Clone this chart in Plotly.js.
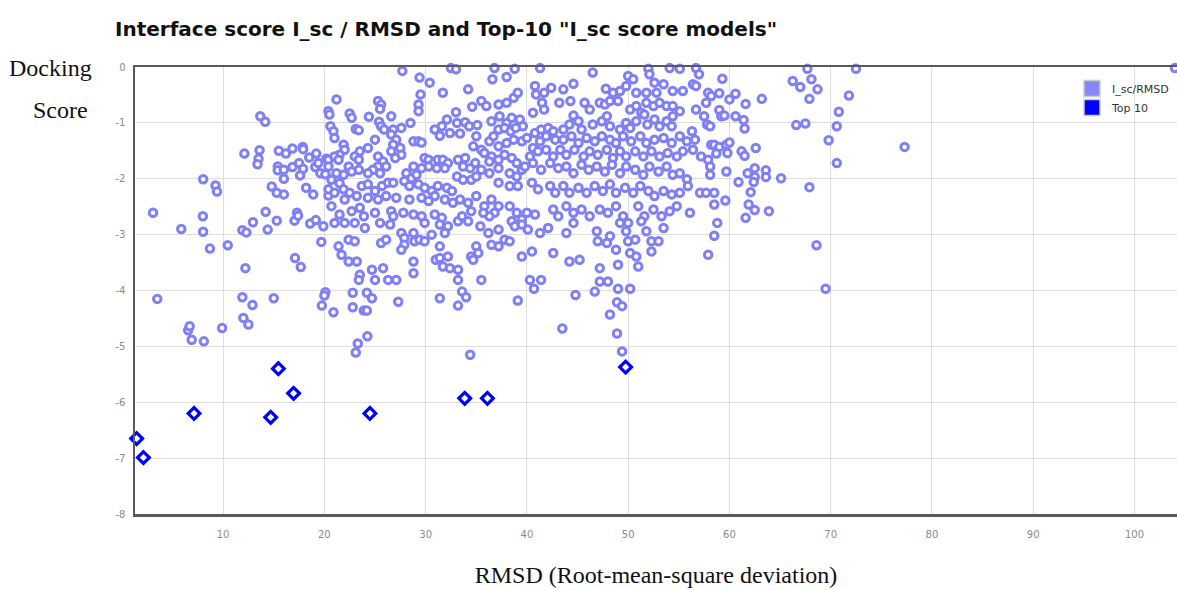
<!DOCTYPE html>
<html>
<head>
<meta charset="utf-8">
<script src="https://cdn.plot.ly/plotly-3.0.1.min.js"></script>
<style>html,body{margin:0;padding:0;background:#fff;}#chart{width:1177px;height:590px;}</style>
</head>
<body>
<div id="chart"></div>
<script>
// I_sc / RMSD models: [RMSD, I_sc score]
var iscModels = [
[13.67,-0.88],[14.16,-0.98],[12.1,-1.55],[13.6,-1.49],[13.5,-1.64],[13.4,-1.74],[15.5,-1.5],[16.2,-1.55],[16.85,-1.46],[17.87,-1.43],[17.9,-1.47],[18.5,-1.62],[19.2,-1.55],[20.2,-1.64],[15.4,-1.78],[15.4,-1.85],[16.0,-1.84],[16.85,-1.79],[17.5,-1.72],[17.9,-1.82],[17.6,-1.94],[16.0,-2.0],[19.1,-1.79],[19.4,-1.72],[19.6,-1.9],[20.1,-1.92],[20.4,-1.66],[8.03,-2.01],[9.25,-2.12],[9.4,-2.23],[14.8,-2.14],[15.3,-2.25],[16.0,-2.28],[18.2,-2.16],[18.9,-2.28],[20.4,-2.3],[3.08,-2.61],[8.0,-2.67],[8.03,-2.95],[5.87,-2.9],[8.7,-3.25],[10.46,-3.19],[11.9,-2.92],[12.3,-2.96],[12.95,-2.78],[14.2,-2.59],[14.4,-2.91],[15.3,-2.75],[17.05,-2.75],[17.3,-2.61],[17.4,-2.66],[18.6,-2.8],[19.15,-2.74],[19.9,-2.85],[19.7,-3.13],[17.1,-3.42],[17.67,-3.58],[12.2,-3.6],
[27.7,-0.07],[29.4,-0.19],[30.4,-0.28],[32.5,-0.02],[33.0,-0.04],[36.8,-0.02],[36.6,-0.22],[38.0,-0.18],[38.8,-0.03],[31.7,-0.46],[34.2,-0.4],[29.5,-0.49],[29.3,-0.67],[29.3,-0.79],[21.2,-0.58],[20.4,-0.79],[20.5,-0.85],[25.3,-0.61],[25.6,-0.67],[25.5,-0.75],[22.5,-0.83],[22.7,-0.91],[24.4,-0.89],[26.6,-0.88],[25.4,-0.98],[25.6,-1.06],[25.9,-1.12],[26.8,-1.12],[27.6,-1.09],[28.5,-1.0],[23.1,-1.11],[23.4,-1.13],[20.6,-1.06],[20.9,-1.15],[21.0,-1.27],[33.0,-0.81],[34.6,-0.71],[35.5,-0.61],[36.0,-0.7],[37.2,-0.67],[38.0,-0.64],[38.7,-0.55],[39.1,-0.46],[32.1,-0.94],[33.1,-1.0],[33.9,-0.99],[34.3,-1.06],[35.1,-1.04],[30.9,-1.12],[31.4,-1.23],[31.6,-1.06],[32.4,-1.18],[33.4,-1.19],[36.5,-0.97],[37.3,-0.88],[38.0,-1.0],[38.5,-0.91],[39.3,-0.94],[39.6,-1.06],[37.2,-1.12],[37.8,-1.09],[38.4,-1.15],[38.9,-1.09],[28.8,-1.33],[29.3,-1.33],[29.6,-1.35],[35.0,-1.24],[34.7,-1.42],[35.5,-1.48],[36.3,-1.33],[36.7,-1.24],[37.2,-1.42],[38.0,-1.36],[38.7,-1.3],[39.5,-1.33],[26.6,-1.21],[27.1,-1.3],[26.8,-1.39],[27.5,-1.45],[27.6,-1.57],[27.0,-1.63],[26.6,-1.51],[25.0,-1.3],[24.3,-1.45],[23.5,-1.51],[23.0,-1.6],[23.4,-1.66],[21.9,-1.39],[22.0,-1.48],[21.5,-1.57],[21.0,-1.6],[20.4,-1.78],[21.4,-1.66],[25.3,-1.6],[25.8,-1.69],[25.3,-1.78],[24.8,-1.84],[24.3,-1.9],[25.5,-1.9],[26.1,-1.78],[22.4,-1.78],[22.7,-1.87],[23.4,-1.84],[21.9,-1.93],[21.2,-1.9],[20.7,-2.02],[21.5,-2.08],[28.8,-1.78],[29.9,-1.63],[30.3,-1.66],[30.8,-1.72],[31.2,-1.66],[31.7,-1.66],[32.2,-1.72],[31.9,-1.81],[31.1,-1.81],[30.3,-1.78],[29.6,-1.81],[28.1,-1.9],[28.6,-1.99],[29.1,-1.93],[33.2,-1.66],[33.9,-1.63],[33.7,-1.78],[34.4,-1.81],[34.9,-1.72],[35.8,-1.54],[36.5,-1.6],[36.3,-1.69],[37.2,-1.66],[37.8,-1.57],[38.5,-1.63],[39.0,-1.72],[39.5,-1.84],[35.5,-1.84],[36.3,-1.9],[37.2,-1.81],[38.3,-1.9],[39.0,-1.96],[33.1,-1.96],[33.7,-2.02],[34.5,-2.02],[35.0,-1.96],[37.2,-2.07],[38.3,-2.13],[39.1,-2.13],[23.7,-2.13],[24.3,-2.1],[25.0,-2.22],[25.7,-2.13],[26.3,-2.07],[26.8,-2.07],[27.9,-2.04],[28.4,-2.13],[29.3,-2.1],[29.9,-2.16],[30.6,-2.22],[31.2,-2.13],[32.1,-2.16],[32.6,-2.22],[20.4,-2.19],[21.0,-2.25],[21.9,-2.19],[22.5,-2.25],[23.2,-2.31],[22.0,-2.37],[24.3,-2.34],[25.3,-2.37],[26.1,-2.31],[27.1,-2.34],[28.4,-2.37],[29.6,-2.34],[30.3,-2.4],[30.9,-2.31],[31.9,-2.37],[32.7,-2.43],[33.4,-2.37],[34.2,-2.43],[35.0,-2.31],[35.8,-2.49],[36.5,-2.37],[37.2,-2.49],[36.8,-2.61],[36.3,-2.67],[35.7,-2.61],[38.3,-2.49],[39.0,-2.61],[39.5,-2.73],[38.5,-2.76],[20.7,-2.49],[21.5,-2.64],[21.0,-2.79],[22.0,-2.79],[22.7,-2.58],[23.5,-2.52],[23.9,-2.67],[23.0,-2.79],[24.0,-2.88],[25.0,-2.61],[25.5,-2.79],[26.6,-2.58],[26.8,-2.67],[26.5,-2.82],[27.8,-2.61],[28.8,-2.64],[29.6,-2.67],[29.9,-2.79],[30.9,-2.64],[31.6,-2.7],[31.4,-2.82],[32.2,-2.85],[31.9,-2.97],[33.2,-2.76],[33.6,-2.67],[34.2,-2.76],[34.5,-2.58],[35.4,-2.85],[36.2,-2.97],[37.2,-2.91],[37.8,-3.09],[38.3,-3.12],[37.2,-3.21],[36.5,-3.18],[38.8,-2.85],[39.5,-2.82],[22.4,-3.09],[23.0,-3.12],[21.4,-3.21],[25.6,-3.15],[26.1,-3.09],[27.6,-2.97],[27.9,-3.06],[28.8,-2.97],[28.9,-3.12],[27.9,-3.18],[27.6,-3.27],[29.4,-3.09],[29.9,-3.12],[30.6,-3.0],[31.4,-3.21],[21.7,-3.36],[22.4,-3.48],[23.2,-3.48],[31.0,-3.45],[31.4,-3.42],[32.2,-3.39],[31.7,-3.57],[32.4,-3.6],[33.2,-3.63],[34.5,-3.39],[35.0,-3.21],[35.2,-3.33],[34.7,-3.45],[39.5,-3.39],[28.8,-3.48],[28.8,-3.69],[23.5,-3.72],[23.4,-3.81],[24.7,-3.63],[25.0,-3.81],[25.8,-3.6],[26.3,-3.81],[27.1,-3.81],[33.2,-3.81],[35.5,-3.81],
[41.3,-0.02],[46.5,-0.1],[52.0,-0.03],[52.1,-0.13],[54.1,-0.02],[55.1,-0.03],[56.7,-0.02],[57.0,-0.13],[50.0,-0.16],[50.5,-0.22],[52.6,-0.28],[53.5,-0.31],[56.4,-0.31],[56.7,-0.34],[40.8,-0.34],[40.9,-0.49],[41.7,-0.46],[42.4,-0.37],[43.6,-0.4],[44.6,-0.3],[47.8,-0.39],[48.5,-0.46],[49.2,-0.43],[49.8,-0.34],[50.8,-0.46],[51.8,-0.46],[52.8,-0.46],[54.4,-0.43],[55.4,-0.43],[57.9,-0.46],[58.2,-0.52],[41.5,-0.64],[41.7,-0.76],[40.6,-0.82],[43.2,-0.64],[44.3,-0.61],[45.7,-0.64],[46.2,-0.76],[47.2,-0.64],[47.7,-0.67],[48.2,-0.61],[49.0,-0.61],[50.2,-0.76],[50.8,-0.7],[51.3,-0.82],[51.8,-0.64],[52.5,-0.7],[53.1,-0.64],[53.8,-0.7],[54.4,-0.7],[55.1,-0.79],[56.7,-0.76],[57.7,-0.64],[57.5,-0.88],[44.6,-0.87],[45.1,-0.97],[44.2,-1.03],[43.6,-1.12],[45.4,-1.12],[46.5,-1.03],[47.4,-0.97],[47.9,-0.88],[48.2,-1.06],[49.2,-1.12],[49.8,-1.0],[50.2,-1.09],[50.8,-0.97],[51.6,-0.85],[51.9,-1.03],[52.6,-0.94],[53.1,-1.06],[53.8,-0.97],[54.4,-0.88],[54.3,-1.06],[56.3,-1.15],[56.6,-1.3],[57.8,-1.03],[58.1,-1.06],[40.0,-1.27],[40.8,-1.18],[41.4,-1.12],[42.1,-1.09],[42.6,-1.15],[41.9,-1.24],[42.8,-1.3],[41.3,-1.33],[40.6,-1.45],[43.6,-1.3],[44.4,-1.24],[45.1,-1.36],[45.9,-1.27],[46.7,-1.33],[47.4,-1.24],[48.2,-1.3],[48.8,-1.36],[49.5,-1.24],[50.3,-1.33],[51.2,-1.24],[51.8,-1.36],[52.6,-1.3],[53.5,-1.27],[54.3,-1.36],[55.1,-1.24],[55.8,-1.33],[58.2,-1.39],[40.3,-1.6],[41.1,-1.51],[41.9,-1.48],[42.6,-1.6],[43.3,-1.48],[43.9,-1.57],[44.7,-1.48],[45.6,-1.6],[46.2,-1.51],[47.0,-1.57],[47.9,-1.48],[48.5,-1.63],[49.2,-1.51],[49.8,-1.6],[50.7,-1.51],[51.5,-1.6],[52.3,-1.51],[53.1,-1.6],[53.9,-1.54],[54.8,-1.6],[55.4,-1.51],[56.4,-1.48],[57.2,-1.6],[57.9,-1.66],[39.8,-1.78],[40.6,-1.72],[41.4,-1.84],[42.3,-1.72],[43.1,-1.81],[43.9,-1.78],[44.6,-1.9],[45.4,-1.75],[46.1,-1.84],[46.9,-1.78],[47.7,-1.87],[48.4,-1.75],[49.2,-1.9],[49.8,-1.78],[50.7,-1.84],[51.5,-1.93],[52.1,-1.78],[53.0,-1.87],[53.8,-1.78],[54.4,-1.93],[55.1,-1.9],[55.8,-2.01],[58.1,-1.78],[58.1,-1.93],[40.5,-2.07],[41.1,-2.19],[42.3,-2.13],[42.8,-2.25],[43.6,-2.13],[44.2,-2.25],[45.1,-2.16],[45.9,-2.25],[46.7,-2.13],[47.5,-2.22],[48.2,-2.1],[48.8,-2.25],[49.7,-2.16],[50.5,-2.25],[51.2,-2.13],[52.0,-2.22],[52.6,-2.31],[53.5,-2.22],[54.3,-2.28],[55.1,-2.25],[55.9,-2.13],[57.1,-2.25],[57.7,-2.25],[40.0,-2.61],[40.8,-2.64],[42.6,-2.55],[43.1,-2.67],[43.9,-2.49],[44.6,-2.61],[45.4,-2.55],[46.2,-2.67],[47.2,-2.55],[48.0,-2.61],[48.8,-2.49],[49.5,-2.67],[51.0,-2.49],[51.6,-2.67],[52.5,-2.55],[53.3,-2.67],[54.1,-2.58],[54.8,-2.49],[56.1,-2.61],[40.1,-2.91],[41.3,-2.97],[42.1,-2.88],[43.9,-2.97],[44.6,-2.79],[46.9,-2.94],[48.2,-3.03],[49.2,-2.79],[50.0,-2.79],[49.8,-2.94],[51.3,-2.76],[51.8,-2.94],[53.5,-2.88],[40.5,-3.3],[42.6,-3.33],[44.2,-3.48],[45.2,-3.45],[47.0,-3.12],[47.9,-3.15],[48.8,-3.27],[50.0,-3.12],[50.7,-3.09],[50.2,-3.33],[50.8,-3.39],[52.3,-3.12],[53.0,-3.12],[52.3,-3.3],[51.0,-3.57],[47.2,-3.6],[49.0,-3.54],[57.9,-3.36],[40.3,-3.81],[41.4,-3.81],[47.2,-3.84],[48.0,-3.84],
[67.7,-0.03],[72.5,-0.03],[104.0,-0.02],[59.3,-0.21],[66.25,-0.25],[67.0,-0.36],[68.1,-0.22],[68.7,-0.4],[67.9,-0.57],[71.8,-0.51],[59.0,-0.47],[60.0,-0.58],[60.6,-0.48],[61.6,-0.66],[63.2,-0.57],[59.0,-0.77],[59.2,-0.88],[59.5,-0.87],[60.6,-0.88],[61.4,-0.95],[61.5,-1.1],[70.8,-0.8],[70.6,-1.06],[69.8,-1.31],[70.6,-1.72],[66.6,-1.04],[67.5,-1.01],[77.3,-1.43],[58.5,-1.39],[59.0,-1.43],[59.7,-1.39],[60.0,-1.35],[58.7,-1.55],[59.8,-1.54],[61.2,-1.51],[61.5,-1.59],[62.6,-1.45],[59.7,-1.87],[61.8,-1.9],[62.5,-1.81],[63.6,-1.85],[62.5,-1.97],[63.6,-1.97],[65.1,-1.99],[62.4,-2.06],[60.9,-2.06],[67.9,-2.15],[58.5,-2.25],[58.5,-2.46],[59.6,-2.39],[62.1,-2.24],[61.9,-2.46],[62.5,-2.56],[61.6,-2.7],[63.9,-2.58],[58.8,-2.79],[58.5,-3.02],[68.6,-3.19],[69.5,-3.97],
[3.5,-4.15],[11.9,-4.12],[12.9,-4.26],[15.0,-4.14],[19.75,-4.27],[20.1,-4.03],[20.0,-4.09],[20.9,-4.39],[22.8,-4.04],[22.8,-4.3],[24.2,-4.04],[24.7,-4.14],[23.9,-4.36],[24.2,-4.36],[27.3,-4.2],[31.4,-4.14],[33.2,-4.27],[33.6,-4.02],[34.0,-4.12],[39.1,-4.18],[40.7,-3.97],[44.8,-4.08],[46.7,-4.02],[49.0,-3.97],[50.2,-3.97],[48.9,-4.21],[49.4,-4.28],[48.2,-4.43],[48.9,-4.77],[49.4,-5.09],[43.5,-4.68],[6.55,-4.71],[6.7,-4.64],[6.9,-4.88],[8.1,-4.91],[9.9,-4.67],[12.0,-4.49],[12.5,-4.61],[23.3,-4.95],[23.1,-5.11],[24.25,-4.82],[34.4,-5.15]
];

// Top 10 "I_sc score models"
var top10Rmsd  = [1.46, 2.13, 7.13, 14.7, 15.46, 16.96, 24.5, 33.86, 36.1, 49.75];
var top10Score = [-6.65, -6.99, -6.2, -6.27, -5.4, -5.84, -6.2, -5.93, -5.93, -5.37];

var xTickVals = [10, 20, 30, 40, 50, 60, 70, 80, 90, 100];
var xTickLabels = ['10', '20', '30', '40', '50', '60', '70', '80', '90', '100'];
var yTickVals = [0, -1, -2, -3, -4, -5, -6, -7, -8];
var yTickLabels = ['0', '-1', '-2', '-3', '-4', '-5', '-6', '-7', '-8'];

var seriesNames = ['I_sc/RMSD', 'Top 10'];

var iscX = iscModels.map(function (p) { return p[0]; });
var iscY = iscModels.map(function (p) { return p[1]; });

var traces = [
  {
    x: iscX, y: iscY, type: 'scatter', mode: 'markers', showlegend: false,
    cliponaxis: false, hoverinfo: 'x+y',
    marker: { symbol: 'circle', size: 7.5, color: '#ffffff', line: { color: '#7f7ff6', width: 3 } }
  },
  {
    x: top10Rmsd, y: top10Score, type: 'scatter', mode: 'markers', showlegend: false,
    cliponaxis: false, hoverinfo: 'x+y',
    marker: { symbol: 'diamond', size: 9, color: '#ffffff', line: { color: '#0000ff', width: 3.2 } }
  },
  {
    x: [null], y: [null], type: 'scatter', mode: 'markers', name: seriesNames[0],
    marker: { symbol: 'square', size: 16, color: '#8787fb', line: { color: '#cccccc', width: 1.5 } }
  },
  {
    x: [null], y: [null], type: 'scatter', mode: 'markers', name: seriesNames[1],
    marker: { symbol: 'square', size: 16, color: '#0000ff', line: { color: '#cccccc', width: 1.5 } }
  }
];

var tickFont = { family: 'DejaVu Sans, sans-serif', size: 10, color: '#8a8a8a' };

var layout = {
  width: 1177, height: 590,
  margin: { l: 135, r: 0, t: 67, b: 76, pad: 0, autoexpand: false },
  paper_bgcolor: '#ffffff', plot_bgcolor: '#ffffff',
  title: {
    text: '<b>Interface score I_sc / RMSD and Top-10 "I_sc score models"</b>',
    font: { family: 'DejaVu Sans, sans-serif', size: 20, color: '#111111' },
    xref: 'container', yref: 'container', x: 115 / 1177, xanchor: 'left', y: 1 - 29 / 590, yanchor: 'middle',
    automargin: false
  },
  xaxis: {
    range: [1.3, 104.2], tickmode: 'array', tickvals: xTickVals, ticktext: xTickLabels,
    showgrid: true, gridcolor: '#dedede', gridwidth: 1, zeroline: false,
    showline: true, linecolor: '#5a5a5a', linewidth: 2.5, mirror: true,
    ticks: '', tickfont: tickFont, ticklabelstandoff: 9, automargin: false,
    title: { text: 'RMSD (Root-mean-square deviation)', font: { family: 'Liberation Serif, serif', size: 24, color: '#111111' }, standoff: 28 }
  },
  yaxis: {
    range: [-8, 0], tickmode: 'array', tickvals: yTickVals, ticktext: yTickLabels,
    showgrid: true, gridcolor: '#dedede', gridwidth: 1, zeroline: false,
    showline: true, linecolor: '#5a5a5a', linewidth: 2.5, mirror: false,
    ticks: '', tickfont: tickFont, ticklabelstandoff: 5, automargin: false
  },
  legend: {
    x: (1072 - 135) / 1042, xref: 'paper', y: 1 - 7 / 447, yref: 'paper', xanchor: 'left', yanchor: 'top',
    bgcolor: 'rgba(255,255,255,0)', borderwidth: 0,
    font: { family: 'DejaVu Sans, sans-serif', size: 11, color: '#333333' },
    itemsizing: 'trace', tracegroupgap: 2
  },
  annotations: [
    { text: 'Docking', xref: 'paper', yref: 'paper', x: -41 / 1042, y: 1 - 1 / 447, xanchor: 'right', yanchor: 'middle', showarrow: false,
      font: { family: 'Liberation Serif, serif', size: 24, color: '#111111' } },
    { text: 'Score', xref: 'paper', yref: 'paper', x: -45 / 1042, y: 1 - 43 / 447, xanchor: 'right', yanchor: 'middle', showarrow: false,
      font: { family: 'Liberation Serif, serif', size: 24, color: '#111111' } }
  ]
};

Plotly.newPlot('chart', traces, layout, { displayModeBar: false, staticPlot: true });
</script>
</body>
</html>
